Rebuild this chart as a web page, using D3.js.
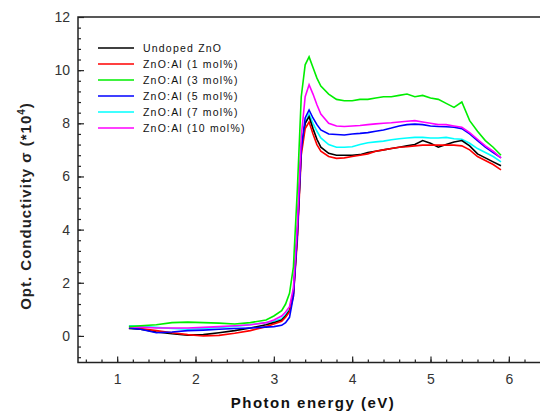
<!DOCTYPE html>
<html>
<head>
<meta charset="utf-8">
<script src="https://cdn.jsdelivr.net/npm/d3@7"></script>
<style>
  body { margin: 0; background: #fff; }
  svg { display: block; font-family: "Liberation Sans", Arial, sans-serif; }
</style>
</head>
<body>
<div id="fig"></div>
<script>
// photon energy (eV), shared by every curve
var energy = [1.15,1.3,1.5,1.7,1.9,2.1,2.3,2.5,2.7,2.9,3.0,3.1,3.15,3.2,3.25,3.3,3.35,3.4,3.45,3.5,3.55,3.6,3.7,3.8,3.9,4.0,4.1,4.2,4.3,4.4,4.5,4.6,4.7,4.8,4.9,5.0,5.1,5.2,5.3,5.4,5.5,5.6,5.7,5.8,5.9];

// optical conductivity (x10^4)
var undoped = [0.28,0.25,0.15,0.08,0.03,0.05,0.12,0.2,0.3,0.42,0.5,0.6,0.75,0.95,1.6,3.8,7.0,8.0,8.25,7.8,7.4,7.1,6.87,6.8,6.8,6.8,6.82,6.9,6.95,7.0,7.05,7.1,7.15,7.2,7.35,7.25,7.1,7.2,7.3,7.35,7.15,6.85,6.7,6.55,6.4];
var al1 = [0.3,0.28,0.2,0.12,0.05,0.0,0.02,0.1,0.2,0.35,0.45,0.55,0.7,0.9,1.5,3.6,6.8,7.8,8.05,7.6,7.2,6.95,6.75,6.68,6.7,6.75,6.8,6.85,6.95,7.0,7.05,7.1,7.12,7.15,7.18,7.18,7.18,7.18,7.18,7.15,7.0,6.75,6.6,6.45,6.25];
var al3 = [0.35,0.38,0.42,0.5,0.52,0.5,0.48,0.45,0.5,0.6,0.75,0.95,1.2,1.6,2.6,5.5,9.0,10.2,10.5,10.1,9.7,9.4,9.1,8.9,8.85,8.85,8.9,8.9,8.95,9.0,9.0,9.05,9.1,9.0,9.05,8.95,8.9,8.75,8.6,8.8,8.1,7.7,7.35,7.1,6.8];
var al5 = [0.3,0.25,0.12,0.15,0.2,0.22,0.25,0.28,0.3,0.33,0.35,0.4,0.5,0.7,1.5,3.8,7.0,8.2,8.5,8.2,7.95,7.75,7.6,7.58,7.56,7.6,7.62,7.65,7.7,7.75,7.82,7.9,7.95,7.97,7.95,7.9,7.88,7.87,7.85,7.8,7.6,7.35,7.1,6.9,6.7];
var al7 = [0.38,0.36,0.32,0.28,0.25,0.28,0.32,0.36,0.42,0.5,0.55,0.65,0.8,1.0,1.7,4.0,7.0,8.0,8.35,8.0,7.7,7.45,7.2,7.1,7.1,7.12,7.2,7.27,7.3,7.33,7.38,7.42,7.45,7.47,7.47,7.45,7.45,7.47,7.42,7.4,7.25,7.05,6.9,6.75,6.55];
var al10 = [0.35,0.33,0.3,0.3,0.3,0.32,0.35,0.38,0.42,0.5,0.6,0.75,0.9,1.1,1.8,4.2,7.5,9.0,9.45,9.1,8.7,8.35,8.0,7.9,7.88,7.9,7.92,7.95,7.98,8.0,8.02,8.05,8.08,8.1,8.05,8.0,7.95,7.95,7.9,7.85,7.65,7.4,7.15,6.95,6.7];

var seriesNames = ["Undoped ZnO", "ZnO:Al (1 mol%)", "ZnO:Al (3 mol%)", "ZnO:Al (5 mol%)", "ZnO:Al (7 mol%)", "ZnO:Al (10 mol%)"];
var seriesValues = [undoped, al1, al3, al5, al7, al10];
var seriesColors = ["#000000", "#ff0000", "#00ee00", "#0000ff", "#00ffff", "#ff00ff"];

var xTicks = [1, 2, 3, 4, 5, 6];
var yTicks = [0, 2, 4, 6, 8, 10, 12];

var W = 540, H = 418;
var plotLeft = 78, plotTop = 17, plotRight = 548, plotBottom = 362.5;

var svg = d3.select("#fig").append("svg")
    .attr("width", W)
    .attr("height", H);

var x = d3.scaleLinear().domain([0.5, 6.5]).range([plotLeft, plotRight]);
var y = d3.scaleLinear().domain([-1, 12]).range([plotBottom, plotTop]);

// minor ticks
var xMinor = d3.range(0.6, 6.5, 0.2).map(function(v){ return +v.toFixed(1); });
var yMinor = d3.range(-0.8, 12, 0.4).map(function(v){ return +v.toFixed(1); });

// bottom axis, ticks pointing inward
var gx = svg.append("g")
    .attr("transform", "translate(0," + plotBottom + ")");
gx.append("g")
    .call(d3.axisBottom(x).tickValues(xMinor).tickSize(-3).tickFormat(""))
    .call(function(g){ g.select(".domain").remove(); });
gx.append("g")
    .call(d3.axisBottom(x).tickValues(xTicks).tickSize(-6).tickPadding(12).tickFormat(d3.format("d")))
    .call(function(g){ g.select(".domain").remove(); });

// left axis
var gy = svg.append("g")
    .attr("transform", "translate(" + plotLeft + ",0)");
gy.append("g")
    .call(d3.axisLeft(y).tickValues(yMinor).tickSize(-3).tickFormat(""))
    .call(function(g){ g.select(".domain").remove(); });
gy.append("g")
    .call(d3.axisLeft(y).tickValues(yTicks).tickSize(-6).tickPadding(8).tickFormat(d3.format("d")))
    .call(function(g){ g.select(".domain").remove(); });

svg.selectAll(".tick line").attr("stroke", "#222").attr("stroke-width", 1.2);
svg.selectAll(".tick text")
    .style("font-size", "14px")
    .attr("fill", "#333");

// frame
svg.append("rect")
    .attr("x", plotLeft).attr("y", plotTop)
    .attr("width", plotRight - plotLeft).attr("height", plotBottom - plotTop)
    .attr("fill", "none")
    .attr("stroke", "#222")
    .attr("stroke-width", 1.5);

// curves
var line = d3.line()
    .x(function(d, i){ return x(energy[i]); })
    .y(function(d){ return y(d); });

// draw order so the green/magenta sit on top like the original
var order = [4, 0, 1, 3, 5, 2];
order.forEach(function(k){
  svg.append("path")
    .datum(seriesValues[k])
    .attr("fill", "none")
    .attr("stroke", seriesColors[k])
    .attr("stroke-width", 1.6)
    .attr("d", line);
});

// legend
seriesNames.forEach(function(name, i){
  var ly = 48 + i * 16;
  svg.append("line")
    .attr("x1", 98).attr("x2", 134)
    .attr("y1", ly).attr("y2", ly)
    .attr("stroke", seriesColors[i])
    .attr("stroke-width", 1.6);
  svg.append("text")
    .attr("x", 143).attr("y", ly)
    .attr("dy", "0.35em")
    .style("font-size", "10.5px")
    .style("letter-spacing", "1.2px")
    .attr("fill", "#111")
    .text(name);
});

// axis titles
svg.append("text")
    .attr("x", 313)
    .attr("y", 408)
    .style("text-anchor", "middle")
    .style("font-size", "15px")
    .style("font-weight", "bold")
    .style("letter-spacing", "1.5px")
    .attr("fill", "#111")
    .text("Photon energy (eV)");

var yt = svg.append("text")
    .attr("transform", "translate(31," + 206 + ") rotate(-90)")
    .style("text-anchor", "middle")
    .style("font-size", "15px")
    .style("font-weight", "bold")
    .style("letter-spacing", "1px")
    .attr("fill", "#222");
yt.append("tspan").text("Opt. Conductivity σ (*10");
yt.append("tspan").attr("dy", "-6").style("font-size", "10px").text("4");
yt.append("tspan").attr("dy", "6").text(")");
</script>
</body>
</html>
